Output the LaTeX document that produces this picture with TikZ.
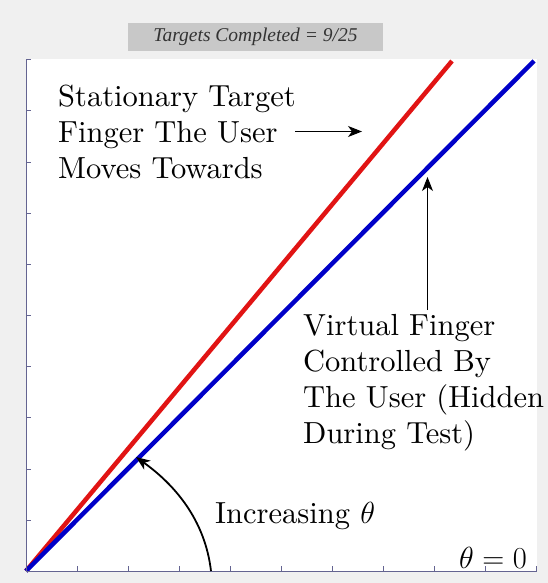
\RequirePackage{fix-cm}
\documentclass[tikz,border=0pt]{standalone}
\usepackage{fontspec}
\newfontfamily\titlefont{Liberation Serif}
\newfontfamily\labelfont{lmroman10-regular.otf}
\usetikzlibrary{arrows.meta}
\definecolor{figbg}{HTML}{F0F0F0}
\definecolor{titlebg}{HTML}{C8C8C8}
\definecolor{axisblue}{RGB}{100,100,145}
\definecolor{targetred}{RGB}{225,20,20}
\definecolor{fingerblue}{RGB}{0,0,200}
\begin{document}
\begin{tikzpicture}[x=1pt,y=-1pt,
  label text/.style={inner sep=0pt, align=left, font=\labelfont\fontsize{30.5}{36}\selectfont},
  pointer/.style={-{Stealth[length=14pt,width=11pt,inset=4pt]}, line width=1pt},
  finger/.style={line width=4.5pt}]
\useasboundingbox (0,0) rectangle (548,583);
\fill[figbg] (0,0) rectangle (548,583);
\fill[white] (26,59.5) rectangle (537,571);
\node[fill=titlebg, minimum width=255pt, minimum height=28pt, inner sep=0pt, text=black!80,
  font=\titlefont\itshape\fontsize{19.5}{19.5}\selectfont] (title) at (255.5,37) {Targets Completed = 9/25};
% the two fingers
\coordinate (origin) at (26,571);
\coordinate (redend) at (452,61);
\coordinate (blueend) at (534,61);
\draw[finger, targetred] (origin) -- (redend);
\draw[finger, fingerblue] (origin) -- (blueend);
% axes
\draw[axisblue, line width=1pt] (26,59.5) -- (26,571) -- (536.5,571);
\foreach \i in {0,...,9} \draw[axisblue] (26,59.5+51.15*\i) -- +(5,0);
\foreach \i in {1,...,10} \draw[axisblue] (26+51.05*\i,571) -- +(0,-5);
% labels
\node[label text, anchor=north west] (target) at (58,85) {Stationary Target\\Finger The User\\Moves Towards};
\node[label text, anchor=north west] (virtual) at (303,314) {Virtual Finger\\Controlled By\\The User (Hidden\\During Test)};
\node[label text, anchor=base west] (increasing) at (215,523) {Increasing $\theta$};
\node[label text, anchor=base west] (zero) at (459,568) {$\theta = 0$};
% pointers
\coordinate (usertail) at (295,131.5);
\coordinate (usertip) at (362,131.5);
\draw[pointer] (usertail) -- (usertip);
\coordinate (virtualtail) at (427.5,310);
\coordinate (virtualtip) at (427.5,177);
\draw[pointer] (virtualtail) -- (virtualtip);
\coordinate (arcstart) at (211,571);
\coordinate (arctip) at (136,457);
\draw[pointer, line width=1.8pt] (arcstart) .. controls (205,520) and (175,485) .. (arctip);
\end{tikzpicture}
\end{document}
